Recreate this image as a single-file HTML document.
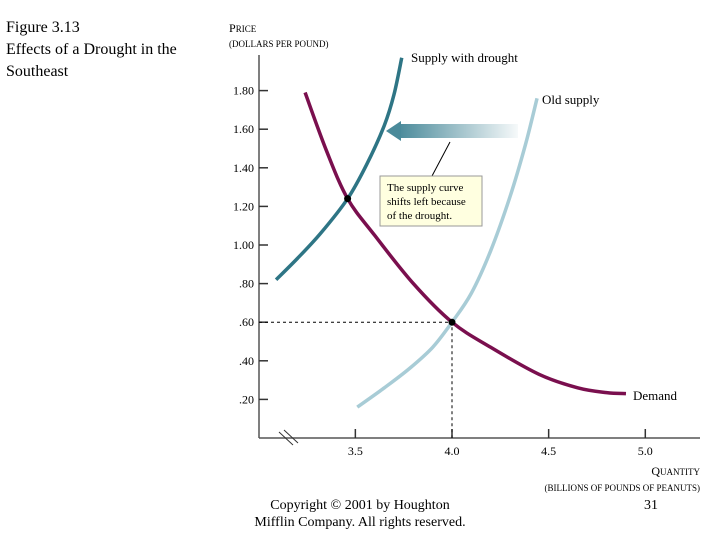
<!DOCTYPE html>
<html><head><meta charset="utf-8"><style>
body{margin:0;background:#fff;width:720px;height:540px;overflow:hidden;font-family:"Liberation Serif",serif;}
</style></head><body>
<svg width="720" height="540" xmlns="http://www.w3.org/2000/svg" font-family="Liberation Serif, serif">
<defs><linearGradient id="ag" x1="0" x2="1"><stop offset="0" stop-color="#4a8a9a"/><stop offset="1" stop-color="#4a8a9a" stop-opacity="0.05"/></linearGradient></defs>
<text x="6" y="32" font-size="16">Figure 3.13</text>
<text x="6" y="54" font-size="16">Effects of a Drought in the</text>
<text x="6" y="76" font-size="16">Southeast</text>
<text x="229" y="32" font-size="12">P<tspan font-size="9">RICE</tspan></text>
<text x="229" y="47" font-size="9">(DOLLARS PER POUND)</text>
<text x="700" y="475" font-size="12" text-anchor="end">Q<tspan font-size="9">UANTITY</tspan></text>
<text x="700" y="491" font-size="9" text-anchor="end">(BILLIONS OF POUNDS OF PEANUTS)</text>
<g id="axes"></g>
<g id="curves"></g>
<rect x="398" y="124" width="120" height="14" fill="url(#ag)"/>
<polygon points="386,131 401,121 401,141" fill="#4a8a9a"/>
<line x1="450" y1="142" x2="432" y2="176" stroke="#000" stroke-width="1"/>
<rect x="380" y="176" width="102" height="50" fill="#ffffe0" stroke="#999" stroke-width="1"/>
<text x="387" y="191" font-size="11"><tspan x="387">The supply curve</tspan><tspan x="387" dy="14">shifts left because</tspan><tspan x="387" dy="14">of the drought.</tspan></text>
<text x="411" y="62" font-size="13">Supply with drought</text>
<text x="542" y="104" font-size="13">Old supply</text>
<text x="633" y="400" font-size="13">Demand</text>
<text x="360" y="509" font-size="14" text-anchor="middle">Copyright © 2001 by Houghton</text>
<text x="360" y="526" font-size="14" text-anchor="middle">Mifflin Company. All rights reserved.</text>
<text x="651" y="509" font-size="14" text-anchor="middle">31</text>
</svg>
<script>
const yTicks=[0.2,0.4,0.6,0.8,1.0,1.2,1.4,1.6,1.8];
const yTickLabels=[".20",".40",".60",".80","1.00","1.20","1.40","1.60","1.80"];
const xTicks=[3.5,4.0,4.5,5.0];
const xTickLabels=["3.5","4.0","4.5","5.0"];
const demandQ=[3.24,3.35,3.46,3.6,3.8,4.0,4.2,4.45,4.65,4.8,4.9];
const demandP=[1.79,1.49,1.24,1.05,0.80,0.60,0.47,0.33,0.26,0.235,0.23];
const droughtQ=[3.09,3.2,3.32,3.46,3.56,3.65,3.70,3.74];
const droughtP=[0.82,0.93,1.06,1.24,1.42,1.62,1.78,1.97];
const oldQ=[3.51,3.65,3.78,3.9,4.0,4.1,4.2,4.3,4.38,4.44];
const oldP=[0.16,0.26,0.36,0.47,0.60,0.75,0.97,1.25,1.52,1.76];
const eqQ=[3.46,4.0];
const eqP=[1.24,0.60];
const NS="http://www.w3.org/2000/svg";
const X=q=>452+(q-4)*193.3, Y=p=>438-p*193;
function mk(t,a,parent){const e=document.createElementNS(NS,t);for(const k in a)e.setAttribute(k,a[k]);parent.appendChild(e);return e;}
const ax=document.getElementById('axes'), cv=document.getElementById('curves');
let e=mk('line',{x1:259,y1:55,x2:259,y2:438,stroke:'#555','stroke-width':1.5},ax);

e=mk('line',{x1:259,y1:438,x2:700,y2:438,stroke:'#555','stroke-width':1.5},ax);

e=mk('path',{d:'M279,432 L293,445 M284,430 L298,443',stroke:'#333','stroke-width':1,fill:'none'},ax);

yTicks.forEach((v,i)=>{
 let t=mk('line',{x1:259,y1:Y(v),x2:268,y2:Y(v),stroke:'#333','stroke-width':1.5},ax);
 
 let l=mk('text',{x:254,y:Y(v)+4,'font-size':12,'text-anchor':'end'},ax);l.textContent=yTickLabels[i];
 
});
xTicks.forEach((v,i)=>{
 let t=mk('line',{x1:X(v),y1:438,x2:X(v),y2:429,stroke:'#333','stroke-width':1.5},ax);
 
 let l=mk('text',{x:X(v),y:455,'font-size':12,'text-anchor':'middle'},ax);l.textContent=xTickLabels[i];
 
});
function spline(qs,ps){const pts=qs.map((q,i)=>[X(q),Y(ps[i])]);let d='M'+pts[0].join(',');
 for(let i=0;i<pts.length-1;i++){const p0=pts[Math.max(0,i-1)],p1=pts[i],p2=pts[i+1],p3=pts[Math.min(pts.length-1,i+2)];
 const c1=[p1[0]+(p2[0]-p0[0])/6,p1[1]+(p2[1]-p0[1])/6],c2=[p2[0]-(p3[0]-p1[0])/6,p2[1]-(p3[1]-p1[1])/6];
 d+=' C'+c1.join(',')+' '+c2.join(',')+' '+p2.join(',');}return d;}
e=mk('path',{d:`M259,${Y(eqP[1])} H${X(eqQ[1])} V438`,stroke:'#000','stroke-width':1,'stroke-dasharray':'3,3',fill:'none'},cv);

e=mk('path',{d:spline(oldQ,oldP),stroke:'#a8ccd6','stroke-width':3.5,fill:'none'},cv);

e=mk('path',{d:spline(droughtQ,droughtP),stroke:'#2e7585','stroke-width':3.5,fill:'none'},cv);

e=mk('path',{d:spline(demandQ,demandP),stroke:'#7a0f4e','stroke-width':3.5,fill:'none'},cv);

eqQ.forEach((q,i)=>{let c=mk('circle',{cx:X(q),cy:Y(eqP[i]),r:3.5,fill:'#000'},cv);
 });
</script>
</body></html>
